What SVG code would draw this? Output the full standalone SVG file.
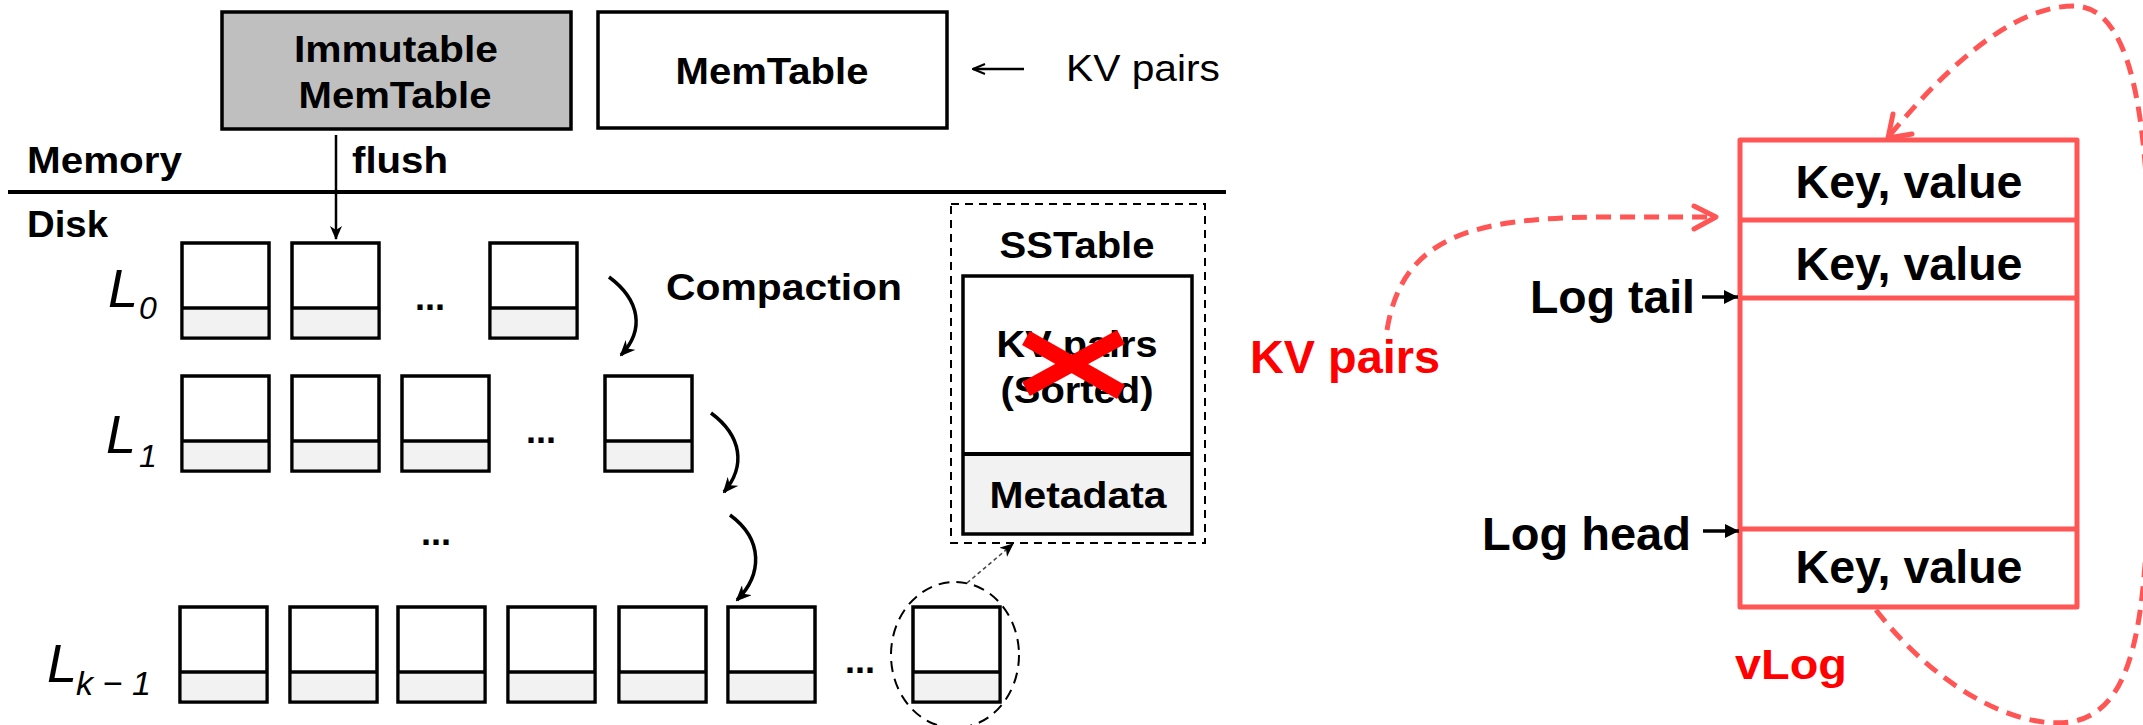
<svg xmlns="http://www.w3.org/2000/svg" width="2143" height="725" viewBox="0 0 2143 725">
  <style>
    text { font-family: "Liberation Sans", Arial, sans-serif; fill: #000; }
    .b { font-weight: bold; }
    .t36 { font-size: 37px; }
    .t46 { font-size: 46px; }
    .ital { font-style: italic; }
    .red { fill: #ff0000; }
    .frame { fill: #fff; stroke: #000; stroke-width: 3.5; }
    .meta { fill: #f2f2f2; }
    .div { stroke: #000; stroke-width: 3.5; }
    .vlog { fill: none; stroke: #ff5555; stroke-width: 5; stroke-linejoin: round; }
    .rdash { fill: none; stroke: #ff5555; stroke-width: 5; stroke-dasharray: 15 9; }
    .rhead { fill: none; stroke: #ff5555; stroke-width: 5; stroke-linecap: round; stroke-linejoin: round; }
    .curve { fill: none; stroke: #000; stroke-width: 3.5; }
    .dots { font-size: 36px; font-weight: bold; }
  </style>
  <defs>
    <!-- one on-disk table: data area above, metadata strip below -->
    <g id="blk">
      <rect class="frame" x="0" y="0" width="87" height="95"/>
      <rect class="meta" x="1.75" y="65" width="83.5" height="28.25"/>
      <line class="div" x1="0" y1="65" x2="87" y2="65"/>
    </g>
    <marker id="barb" viewBox="0 0 16 14" refX="14" refY="7" markerWidth="16" markerHeight="14" markerUnits="userSpaceOnUse" orient="auto">
      <path d="M0,0 L16,7 L0,14 L5,7 z" fill="#000"/>
    </marker>
    <marker id="thin" viewBox="0 0 14 12" refX="13" refY="6" markerWidth="14" markerHeight="12" markerUnits="userSpaceOnUse" orient="auto">
      <path d="M0,0 L14,6 L0,12 L4,6 z" fill="#000"/>
    </marker>
    <marker id="solid" viewBox="0 0 14 14" refX="14" refY="7" markerWidth="14" markerHeight="14" markerUnits="userSpaceOnUse" orient="auto">
      <path d="M0,0 L14,7 L0,14 z" fill="#000"/>
    </marker>
    <marker id="open" viewBox="0 0 14 12" refX="13" refY="6" markerWidth="14" markerHeight="12" markerUnits="userSpaceOnUse" orient="auto">
      <path d="M1,1 L13,6 L1,11" fill="none" stroke="#000" stroke-width="2"/>
    </marker>
  </defs>

  <!-- memory side -->
  <g id="immutable-memtable">
    <rect x="222" y="12" width="349" height="117" fill="#bfbfbf" stroke="#000" stroke-width="3.5"/>
    <text class="b t36" x="396" y="62" text-anchor="middle" textLength="204" lengthAdjust="spacingAndGlyphs">Immutable</text>
    <text class="b t36" x="395" y="108" text-anchor="middle" textLength="193" lengthAdjust="spacingAndGlyphs">MemTable</text>
  </g>
  <g id="memtable">
    <rect class="frame" x="598" y="12" width="349" height="116"/>
    <text class="b t36" x="772" y="84" text-anchor="middle" textLength="193" lengthAdjust="spacingAndGlyphs">MemTable</text>
  </g>
  <g id="kv-input">
    <text class="t36" x="1066" y="81" textLength="154" lengthAdjust="spacingAndGlyphs">KV pairs</text>
  </g>
  <g id="memory-label">
    <text class="b t36" x="27" y="173" textLength="155" lengthAdjust="spacingAndGlyphs">Memory</text>
  </g>
  <g id="boundary">
    <line x1="8" y1="192" x2="1226" y2="192" stroke="#000" stroke-width="4"/>
  </g>
  <g id="disk-label">
    <text class="b t36" x="27" y="237" textLength="81" lengthAdjust="spacingAndGlyphs">Disk</text>
  </g>
  <g id="flush-label">
    <text class="b t36" x="352" y="173" textLength="96" lengthAdjust="spacingAndGlyphs">flush</text>
  </g>

  <!-- level L0 -->
  <g id="level-0">
    <text class="ital" x="108" y="307" font-size="54">L</text>
    <text class="ital" x="139" y="319" font-size="32">0</text>
    <use href="#blk" x="182" y="243"/>
    <use href="#blk" x="292" y="243"/>
    <text class="dots" x="415" y="310">...</text>
    <use href="#blk" x="490" y="243"/>
  </g>
  <g id="compaction-label">
    <text class="b t36" x="666" y="300" textLength="236" lengthAdjust="spacingAndGlyphs">Compaction</text>
  </g>

  <!-- level L1 -->
  <g id="level-1">
    <text class="ital" x="106" y="453" font-size="54">L</text>
    <text class="ital" x="139" y="467" font-size="32">1</text>
    <use href="#blk" x="182" y="376"/>
    <use href="#blk" x="292" y="376"/>
    <use href="#blk" x="402" y="376"/>
    <text class="dots" x="526" y="443">...</text>
    <use href="#blk" x="605" y="376"/>
  </g>

  <g id="more-levels">
    <text class="dots" x="421" y="545">...</text>
  </g>

  <!-- last level -->
  <g id="level-k-1">
    <text class="ital" x="47" y="682" font-size="54">L</text>
    <text class="ital" x="76" y="695" font-size="34" textLength="75" lengthAdjust="spacingAndGlyphs">k − 1</text>
    <use href="#blk" x="180" y="607"/>
    <use href="#blk" x="290" y="607"/>
    <use href="#blk" x="398" y="607"/>
    <use href="#blk" x="508" y="607"/>
    <use href="#blk" x="619" y="607"/>
    <use href="#blk" x="728" y="607"/>
    <text class="dots" x="845" y="673">...</text>
    <use href="#blk" x="913" y="607"/>
    <ellipse cx="955" cy="655" rx="64" ry="73" fill="none" stroke="#000" stroke-width="2" stroke-dasharray="11 7"/>
  </g>

  <!-- SSTable detail -->
  <g id="sstable">
    <rect x="951" y="204" width="254" height="339" fill="none" stroke="#000" stroke-width="2" stroke-dasharray="8 6"/>
    <text class="b t36" x="1077" y="258" text-anchor="middle" textLength="155" lengthAdjust="spacingAndGlyphs">SSTable</text>
    <rect class="frame" x="963" y="276" width="229" height="258" stroke-width="4"/>
    <rect class="meta" x="965" y="454" width="225" height="78"/>
    <line x1="963" y1="454" x2="1192" y2="454" stroke="#000" stroke-width="4"/>
    <text class="b t36" x="1077" y="357" text-anchor="middle" textLength="161" lengthAdjust="spacingAndGlyphs">KV pairs</text>
    <text class="b t36" x="1077" y="403" text-anchor="middle" textLength="153" lengthAdjust="spacingAndGlyphs">(Sorted)</text>
    <text class="b t36" x="1078" y="508" text-anchor="middle" textLength="177" lengthAdjust="spacingAndGlyphs">Metadata</text>
    <g stroke="#ff0000" stroke-width="16">
      <line x1="1026" y1="338" x2="1121" y2="392"/>
      <line x1="1026" y1="389" x2="1121" y2="337"/>
    </g>
  </g>

  <!-- value log -->
  <g id="vlog">
    <rect class="vlog" x="1740" y="140" width="337" height="467"/>
    <line class="vlog" x1="1740" y1="220" x2="2077" y2="220"/>
    <line class="vlog" x1="1740" y1="298" x2="2077" y2="298"/>
    <line class="vlog" x1="1740" y1="529" x2="2077" y2="529"/>
    <text class="b t46" x="1909" y="198" text-anchor="middle" textLength="227" lengthAdjust="spacingAndGlyphs">Key, value</text>
    <text class="b t46" x="1909" y="280" text-anchor="middle" textLength="227" lengthAdjust="spacingAndGlyphs">Key, value</text>
    <text class="b t46" x="1909" y="583" text-anchor="middle" textLength="227" lengthAdjust="spacingAndGlyphs">Key, value</text>
    <text class="b red" x="1735" y="679" font-size="42" textLength="112" lengthAdjust="spacingAndGlyphs">vLog</text>
  </g>
  <g id="log-tail">
    <text class="b t46" x="1530" y="313" textLength="165" lengthAdjust="spacingAndGlyphs">Log tail</text>
  </g>
  <g id="log-head">
    <text class="b t46" x="1482" y="550" textLength="209" lengthAdjust="spacingAndGlyphs">Log head</text>
  </g>
  <g id="kv-pairs-red">
    <text class="b t46 red" x="1250" y="373" textLength="190" lengthAdjust="spacingAndGlyphs">KV pairs</text>
  </g>

  <!-- connectors -->
  <g id="connectors">
    <line x1="1024" y1="69" x2="973" y2="69" stroke="#000" stroke-width="2.5" marker-end="url(#open)"/>
    <line x1="336" y1="135" x2="336" y2="239" stroke="#000" stroke-width="2.5" marker-end="url(#thin)"/>
    <path class="curve" d="M609,277 C640,300 645,330 621,355" marker-end="url(#barb)"/>
    <path class="curve" d="M711,413 C742,436 746,466 724,492" marker-end="url(#barb)"/>
    <path class="curve" d="M730,515 C764,540 762,575 737,600" marker-end="url(#barb)"/>
    <line x1="967" y1="583" x2="1013" y2="544" stroke="#444" stroke-width="1.5" stroke-dasharray="4 3" marker-end="url(#thin)"/>
    <line x1="1702" y1="297" x2="1738" y2="297" stroke="#000" stroke-width="3.5" marker-end="url(#solid)"/>
    <line x1="1703" y1="531" x2="1739" y2="531" stroke="#000" stroke-width="3.5" marker-end="url(#solid)"/>
    <!-- append path into the log -->
    <path class="rdash" d="M1387,330 C1402,238 1470,218 1600,217 L1714,217"/>
    <path class="rhead" d="M1694,206 L1716,217 L1694,229"/>
    <!-- garbage-collection loop back to the tail -->
    <path class="rdash" d="M1876,610 C1930,680 2010,730 2070,722 C2135,712 2146,620 2149,470 L2150,300 C2149,150 2140,8 2075,6 C2010,5 1940,75 1890,135"/>
    <path class="rhead" d="M1893,114 L1888,138 L1912,134"/>
  </g>
</svg>
